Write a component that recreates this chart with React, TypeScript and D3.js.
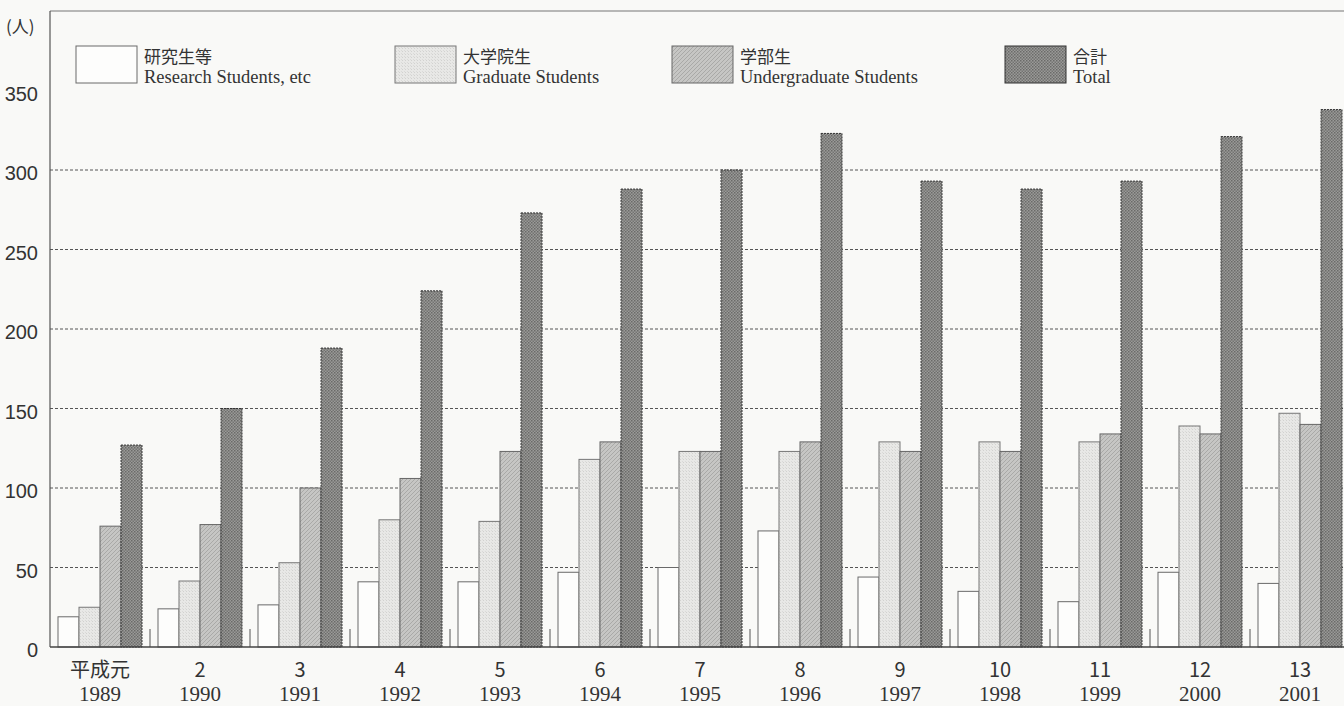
import React from "react";
import * as d3 from "d3";

const years = ["1989","1990","1991","1992","1993","1994","1995","1996","1997","1998","1999","2000","2001"];
const heisei = ["平成元","2","3","4","5","6","7","8","9","10","11","12","13"];
const research = [19, 24, 26.5, 41, 41, 47, 50, 73, 44, 35, 28.5, 47, 40];
const graduate = [25, 41.5, 53, 80, 79, 118, 123, 123, 129, 129, 129, 139, 147];
const undergrad = [76, 77, 100, 106, 123, 129, 123, 129, 123, 123, 134, 134, 140];
const total = [127, 150, 188, 224, 273, 288, 300, 323, 293, 288, 293, 321, 338];
const seriesKeys = ["research", "graduate", "undergrad", "total"];
const seriesJa = ["研究生等", "大学院生", "学部生", "合計"];
const seriesEn = ["Research Students, etc", "Graduate Students", "Undergraduate Students", "Total"];
const yTicks = [0, 50, 100, 150, 200, 250, 300, 350];
const gridTicks = [50, 100, 150, 200, 250, 300];

const W = 1344, H = 706;
const left = 50, right = 1350, top = 11, bottom = 647;

const fills: Record<string, string> = {
  research: "#fdfdfc",
  graduate: "url(#pGrad)",
  undergrad: "url(#pUnder)",
  total: "url(#pTotal)",
};
const strokes: Record<string, string> = {
  research: "#6a6a6a",
  graduate: "#777",
  undergrad: "#666",
  total: "#333",
};
const legendX = [76, 395, 672, 1005];

export default function App() {
  const values: Record<string, number[]> = { research, graduate, undergrad, total };
  const x0 = d3.scaleBand<string>().domain(years).range([left, right]).padding(0);
  const x1 = d3.scaleBand<string>().domain(seriesKeys).range([8, x0.bandwidth() - 8]).padding(0);
  const y = d3.scaleLinear().domain([0, 400]).range([bottom, top]);
  const sansNarrow = "'Liberation Sans Narrow', 'Liberation Sans', Arial, sans-serif";
  const cjk = "'Noto Sans CJK JP', 'Noto Sans', sans-serif";
  const serif = "'Liberation Serif', 'DejaVu Serif', serif";
  return (
    <svg width={W} height={H} style={{ position: "absolute", left: 0, top: 0, background: "#f9f9f7" }}>
      <defs>
        <pattern id="pGrad" patternUnits="userSpaceOnUse" width="3" height="3">
          <rect width="3" height="3" fill="#e8e8e6" />
          <rect x="0" y="0" width="1" height="1" fill="#d2d2d0" />
          <rect x="2" y="2" width="1" height="1" fill="#dadad8" />
        </pattern>
        <pattern id="pUnder" patternUnits="userSpaceOnUse" width="4" height="4">
          <rect width="4" height="4" fill="#c6c6c4" />
          <path d="M-1,1 l2,-2 M0,4 l4,-4 M3,5 l2,-2" stroke="#a9a9a7" strokeWidth="1" />
        </pattern>
        <pattern id="pTotal" patternUnits="userSpaceOnUse" width="3" height="3">
          <rect width="3" height="3" fill="#9a9a98" />
          <rect x="0" y="0" width="1.5" height="1.5" fill="#6a6a68" />
          <rect x="1.5" y="1.5" width="1.5" height="1.5" fill="#747472" />
        </pattern>
      </defs>

      {/* top border */}
      <line x1={left} x2={W} y1={top} y2={top} stroke="#777" strokeWidth={1.2} />

      {/* grid lines */}
      {gridTicks.map((t) => (
        <line key={t} x1={left} x2={W} y1={y(t)} y2={y(t)} stroke="#555" strokeWidth={1} strokeDasharray="3,2" />
      ))}

      {/* bars */}
      {years.map((yr, i) => (
        <g key={yr} transform={`translate(${x0(yr)},0)`}>
          {seriesKeys.map((k) => {
            const v = values[k][i];
            return (
              <rect
                key={k}
                x={x1(k)}
                y={y(v)}
                width={x1.bandwidth()}
                height={y(0) - y(v)}
                fill={fills[k]}
                stroke={strokes[k]}
                strokeWidth={1}
                strokeDasharray={k === "total" ? "2,1" : undefined}
              />
            );
          })}
        </g>
      ))}

      {/* group separator ticks */}
      {years.slice(1).map((yr) => (
        <line key={"s" + yr} x1={x0(yr)} x2={x0(yr)} y1={y(0) - 18} y2={y(0)} stroke="#555" strokeWidth={1} />
      ))}

      {/* axes */}
      <line x1={left} x2={left} y1={top} y2={bottom} stroke="#555" strokeWidth={1.2} />
      <line x1={left} x2={W} y1={bottom} y2={bottom} stroke="#444" strokeWidth={1.4} />

      {/* y tick labels */}
      {yTicks.map((t) => (
        <text key={t} x={38} y={y(t) + 10} textAnchor="end" fontFamily={sansNarrow} fontSize={20} fill="#333">
          {t}
        </text>
      ))}
      <text x={6} y={33} fontFamily={cjk} fontSize={17} fill="#333">(人)</text>

      {/* x labels */}
      {years.map((yr, i) => {
        const cx = (x0(yr) as number) + x0.bandwidth() / 2;
        return (
          <g key={"l" + yr}>
            <text x={cx} y={677} textAnchor="middle" fontFamily={cjk} fontSize={20} fill="#333">{heisei[i]}</text>
            <text x={cx} y={701} textAnchor="middle" fontFamily={serif} fontSize={21} fill="#333">{yr}</text>
          </g>
        );
      })}

      {/* legend */}
      {seriesKeys.map((k, i) => (
        <g key={"lg" + k}>
          <rect x={legendX[i]} y={46} width={61} height={37} fill={fills[k]} stroke={strokes[k]} strokeWidth={1} />
          <text x={legendX[i] + 68} y={63} fontFamily={cjk} fontSize={17} fill="#333">{seriesJa[i]}</text>
          <text x={legendX[i] + 68} y={83} fontFamily={serif} fontSize={18.5} fill="#333">{seriesEn[i]}</text>
        </g>
      ))}
    </svg>
  );
}
